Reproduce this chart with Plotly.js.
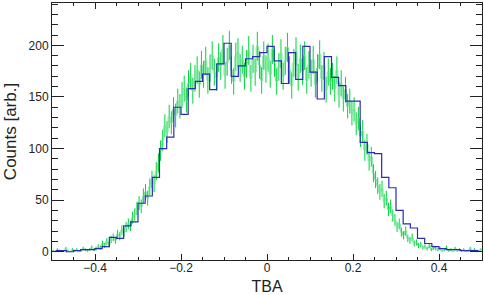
<!DOCTYPE html>
<html>
<head>
<meta charset="utf-8">
<script src="https://cdn.plot.ly/plotly-3.0.1.min.js"></script>
<style>
  html, body { margin: 0; padding: 0; background: #fff; }
  #plot { width: 484px; height: 295px; }
</style>
</head>
<body>
<div id="plot"></div>
<script>
// coarse histogram (blue), 60 bins over [-0.5, 0.5]
var blueStart = -0.5;
var blueWidth = 1 / 60;
var blueCounts = [
  1, 1, 0, 1, 2, 2, 3, 5, 14, 13,
  25, 29, 47, 54, 72, 100, 111, 140, 133, 158,
  165, 172, 157, 182, 202, 170, 180, 187, 189, 193,
  199, 185, 163, 193, 167, 199, 174, 148, 189, 169,
  161, 146, 146, 106, 96, 95, 72, 62, 40, 27,
  23, 13, 8, 5, 3, 2, 2, 1, 1, 1
];

// fine histogram with errors (green), 200 bins over [-0.5, 0.5]
var greenStart = -0.5;
var greenWidth = 0.005;
var greenCounts = [
  1, 0, 2, 1, 0, 1, 3, 1, 0, 2, 1, 2, 0, 1, 3, 2, 1, 2, 4, 2,
  3, 5, 4, 8, 6, 10, 7, 12, 14, 11,
  17, 15, 21, 19, 24, 27, 25, 33, 36, 42,
  47, 44, 54, 58, 52, 63, 70, 66, 78, 86,
  98, 108, 122, 116, 131, 125, 138, 132, 146, 141,
  152, 158, 147, 163, 170, 156, 168, 176, 162, 181,
  172, 185, 166, 178, 190, 174, 169, 188, 180, 196,
  171, 184, 200, 176, 165, 189, 193, 178, 186, 170,
  182, 195, 168, 187, 174, 199, 181, 166, 190, 177,
  188, 172, 196, 183, 165, 179, 192, 170, 185, 198,
  176, 161, 183, 194, 169, 187, 175, 190, 166, 181,
  173, 186, 162, 178, 191, 168, 180, 157, 174, 165,
  170, 158, 176, 152, 163, 148, 157, 141, 146, 134,
  138, 124, 129, 112, 117, 98, 104, 88, 92, 76,
  70, 64, 58, 61, 49, 52, 41, 44, 35, 31,
  24, 27, 19, 16, 20, 13, 11, 14, 8, 9,
  6, 7, 4, 5, 3, 6, 2, 4, 3, 2,
  3, 1, 2, 4, 1, 2, 0, 3, 1, 2,
  1, 2, 0, 1, 3, 1, 2, 0, 1, 2
];

function centers(start, width, n) {
  var out = [];
  for (var i = 0; i < n; i++) out.push(start + width * (i + 0.5));
  return out;
}

var greenTrace = {
  x: centers(greenStart, greenWidth, greenCounts.length),
  y: greenCounts,
  type: 'scatter',
  mode: 'lines',
  line: { shape: 'hvh', color: '#6fe394', width: 0.9 },
  error_y: { type: 'sqrt', visible: true, color: '#00d43c', thickness: 1, width: 0 },
  hoverinfo: 'skip'
};

var blueTrace = {
  x: centers(blueStart, blueWidth, blueCounts.length),
  y: blueCounts,
  type: 'scatter',
  mode: 'lines',
  line: { shape: 'hvh', color: '#2b2bb8', width: 1.2 },
  hoverinfo: 'skip'
};

var tickFont = { family: 'Liberation Sans, Arial, sans-serif', size: 12, color: '#222' };
var titleFont = { family: 'Liberation Sans, Arial, sans-serif', size: 16, color: '#222' };
var ytitleFont = { family: 'Liberation Sans, Arial, sans-serif', size: 17, color: '#222' };

var layout = {
  width: 484,
  height: 295,
  margin: { l: 52, r: 2, t: 3, b: 35 },
  paper_bgcolor: '#fff',
  plot_bgcolor: '#fff',
  showlegend: false,
  font: tickFont,
  xaxis: {
    range: [-0.5, 0.5],
    tickvals: [-0.4, -0.2, 0, 0.2, 0.4],
    ticks: 'inside',
    ticklen: 6,
    ticklabelstandoff: -3,
    tickcolor: '#222',
    showline: true,
    linecolor: '#222',
    linewidth: 1,
    mirror: 'ticks',
    showgrid: false,
    zeroline: false,
    minor: { dtick: 0.05, ticks: 'inside', ticklen: 3, tickcolor: '#222', showgrid: false },
    title: { text: 'TBA', font: titleFont, standoff: 6 }
  },
  yaxis: {
    range: [-8, 241],
    dtick: 50,
    ticks: 'inside',
    ticklen: 12,
    tickcolor: '#222',
    showline: true,
    linecolor: '#222',
    linewidth: 1,
    mirror: 'ticks',
    showgrid: false,
    zeroline: false,
    minor: { dtick: 10, ticks: 'inside', ticklen: 6, tickcolor: '#222', showgrid: false },
    title: { text: 'Counts [arb.]', font: ytitleFont, standoff: 7 }
  }
};

Plotly.newPlot('plot', [greenTrace, blueTrace], layout, { displayModeBar: false, staticPlot: true });
</script>
</body>
</html>
